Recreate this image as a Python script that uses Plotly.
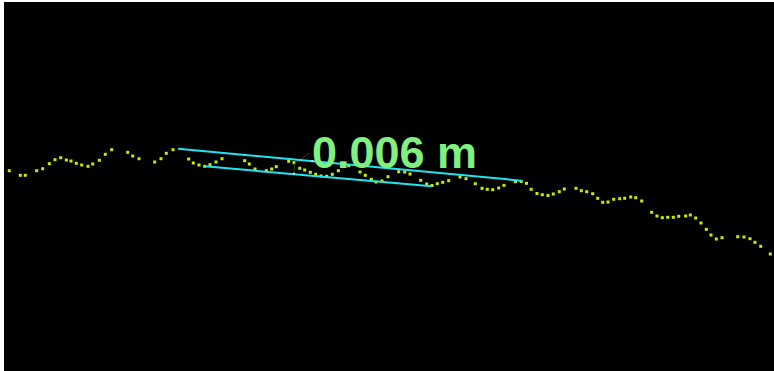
import plotly.graph_objects as go

# Profile points: distance along profile (x) and height (h)
prof_x = [9.3, 20.3, 25.3, 36.7, 42.7, 49.3, 55, 60.7, 66.3, 71, 76.3, 81.7, 88, 92.7, 99.3, 105.3, 111.7,
          127.7, 132.7, 139, 154.7, 161, 166.3, 173, 188.7, 193.3, 199, 204.7, 210, 216, 222,
          244.7, 249.3, 255, 266.3, 271.7, 276.3, 288.7, 294, 299.7, 304.7, 310.3, 315.7, 321, 326.7,
          332.3, 338.3, 348.7, 360, 365.3, 371.3, 376, 382, 388, 398.7, 404.7, 410, 420.7, 426.7, 432,
          437.3, 442.7, 448.7, 460, 466, 475.3, 482, 487.3, 492.7, 498.7, 504, 515.5, 521.2, 526.5,
          531.2, 537, 542.3, 548, 553.3, 559.3, 564.3, 576, 581.3, 586.7, 592.7, 597.7, 602.7, 608,
          613.7, 619.7, 624.7, 630.7, 635.7, 641.7, 651.7, 657, 662.3, 667.7, 673.3, 678.7, 685.7,
          690.3, 695.7, 701, 706.3, 711, 716.3, 722, 737.7, 744, 750, 755, 760.7, 770.3]
prof_py = [170.7, 175.3, 175.3, 170.7, 168.7, 163.7, 159.7, 157.7, 160, 161, 163.3, 165, 166.3, 164, 160.3, 154.3, 149.7,
           152.3, 156, 158.7, 162, 158.7, 153.3, 149.7, 159, 163, 165, 166.3, 164.7, 162, 158.7,
           160.7, 164, 169, 170.7, 169, 166.7, 161.3, 162.7, 168.3, 170, 172.3, 174.3, 176, 176.3,
           174.3, 170.7, 165.7, 172, 175.3, 179.3, 182, 181, 176.7, 171.7, 172, 174, 180.3, 184, 185.5,
           183.7, 182.3, 180.7, 177, 178.7, 183.7, 188.3, 189.3, 189.7, 188, 185.3, 181.7, 181.5, 183.3,
           189.3, 193.5, 194.7, 195.5, 194, 191.7, 189, 188.3, 190.7, 191.7, 193.7, 198.3, 202.3, 202,
           199.3, 198.7, 198.3, 197, 197.7, 201, 212.3, 216, 217.7, 217.3, 217.3, 216.3, 216,
           215, 218, 223, 229.3, 235, 239, 237.7, 236.7, 237, 238.7, 242.3, 246.3, 254]
TOP = 371
prof_h = [TOP - v for v in prof_py]

# Measurement: two parallel fitted lines
upper_x = [178, 521.7]
upper_h = [TOP - 148.7, TOP - 180.7]
lower_x = [204.7, 431.7]
lower_h = [TOP - 166.3, TOP - 186.3]

# Leader from measured points to label
leader_x = [294, 294.5, 309.5]
leader_h = [TOP - 173.8, TOP - 163.5, TOP - 153.2]
meas_x = [294, 312.3]
meas_h = [TOP - 173.8, TOP - 161.1]

label_text = "0.006 m"
label_x = 394.7
label_h = TOP - 152.5

fig = go.Figure()
fig.add_trace(go.Scatter(x=prof_x, y=prof_h, mode="markers",
                         marker=dict(symbol="square", size=3, color="#c4f000", line=dict(width=0)),
                         hoverinfo="skip"))
fig.add_trace(go.Scatter(x=leader_x, y=leader_h, mode="lines",
                         line=dict(color="#1f4a1f", width=1), hoverinfo="skip"))
fig.add_trace(go.Scatter(x=upper_x, y=upper_h, mode="lines",
                         line=dict(color="#22e4f0", width=2), hoverinfo="skip"))
fig.add_trace(go.Scatter(x=lower_x, y=lower_h, mode="lines",
                         line=dict(color="#22e4f0", width=2), hoverinfo="skip"))
fig.add_trace(go.Scatter(x=meas_x, y=meas_h, mode="markers",
                         marker=dict(symbol="square", size=2, color="#d8d8d8", line=dict(width=0)),
                         hoverinfo="skip"))

fig.add_annotation(x=label_x, y=label_h, text="<b>" + label_text + "</b>", showarrow=False,
                   font=dict(family="Liberation Sans, Arial, sans-serif", size=45, color="#80f080"),
                   xanchor="center", yanchor="middle")

fig.update_layout(width=774, height=371, margin=dict(l=4, r=0, t=2, b=0),
                  paper_bgcolor="white", plot_bgcolor="black", showlegend=False)
fig.update_xaxes(range=[4, 774], visible=False, showgrid=False, zeroline=False)
fig.update_yaxes(range=[0, 369], visible=False, showgrid=False, zeroline=False)

fig.write_html("out.html", config={"displayModeBar": False})
